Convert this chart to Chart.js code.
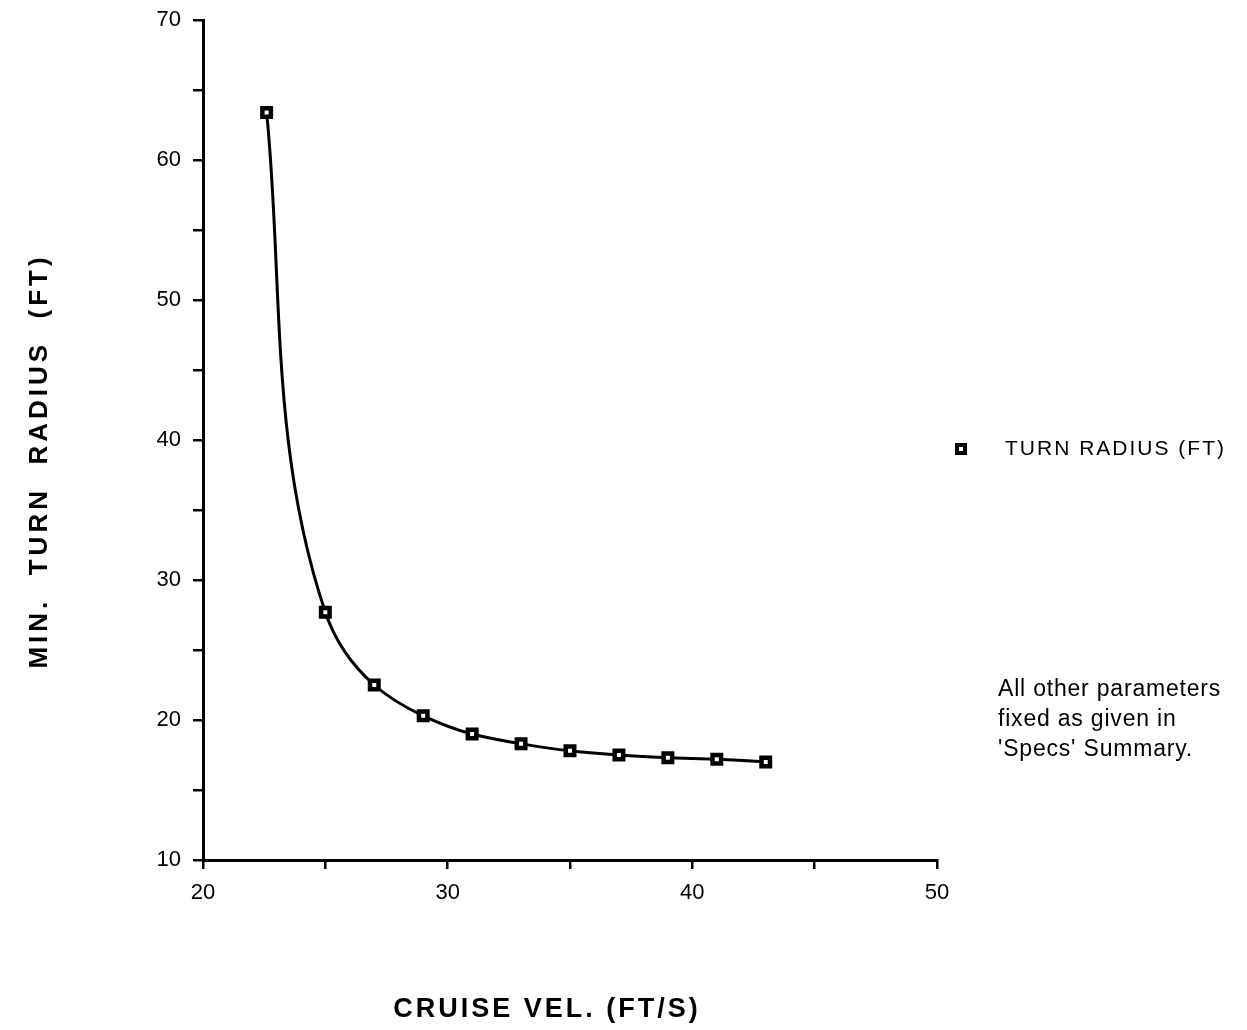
<!DOCTYPE html>
<html>
<head>
<meta charset="utf-8">
<script src="https://cdn.jsdelivr.net/npm/chart.js@4/dist/chart.umd.min.js"></script>
<style>
  html, body { margin: 0; padding: 0; background: #fff; }
  #wrap { width: 1247px; height: 1030px; }
</style>
</head>
<body>
<div id="wrap"><canvas id="turnChart"></canvas></div>
<script>
const cruiseVel = [22.6, 25, 27, 29, 31, 33, 35, 37, 39, 41, 43];
const turnRadius = [63.4, 27.7, 22.5, 20.3, 19.0, 18.3, 17.8, 17.5, 17.3, 17.2, 17.0];
const xTicks = [20, 30, 40, 50];
const yTicks = [10, 20, 30, 40, 50, 60, 70];
const seriesLabel = 'TURN RADIUS (FT)';
const xTitle = 'CRUISE VEL. (FT/S)';
const yTitle = 'MIN.  TURN  RADIUS  (FT)';
const noteLines = ['All other parameters', 'fixed as given in', "'Specs' Summary."];

const FONT = '"Liberation Sans", Arial, Helvetica, sans-serif';

// titles, legend and side note drawn on the canvas
const extras = {
    id: 'extras',
    afterDraw(chart) {
        const ctx = chart.ctx;
        ctx.save();
        ctx.fillStyle = '#000';

        ctx.font = 'bold 27px ' + FONT;
        ctx.letterSpacing = '3px';
        ctx.textAlign = 'center';
        ctx.textBaseline = 'middle';
        ctx.fillText(xTitle, 547, 1010);

        ctx.save();
        ctx.translate(40, 461);
        ctx.rotate(-Math.PI / 2);
        ctx.font = 'bold 26px ' + FONT;
        ctx.letterSpacing = '4px';
        ctx.fillText(yTitle, 0, 0);
        ctx.restore();

        // legend
        const ds = chart.data.datasets[0];
        ctx.lineWidth = 4;
        ctx.strokeStyle = ds.pointBorderColor;
        ctx.fillStyle = ds.pointBackgroundColor;
        ctx.fillRect(957, 445, 8, 8);
        ctx.strokeRect(957, 445, 8, 8);

        ctx.fillStyle = '#000';
        ctx.textAlign = 'left';
        ctx.font = '21px ' + FONT;
        ctx.letterSpacing = '2px';
        ctx.fillText(ds.label, 1005, 449);

        ctx.font = '23px ' + FONT;
        ctx.letterSpacing = '0.8px';
        noteLines.forEach((t, i) => ctx.fillText(t, 998, 690 + i * 30));
        ctx.restore();
    }
};

new Chart(document.getElementById('turnChart'), {
    type: 'line',
    data: {
        datasets: [{
            label: seriesLabel,
            data: cruiseVel.map((v, i) => ({ x: v, y: turnRadius[i] })),
            borderColor: '#000',
            borderWidth: 3,
            cubicInterpolationMode: 'monotone',
            pointStyle: 'rect',
            pointRadius: 6,
            pointBorderWidth: 4.5,
            pointBorderColor: '#000',
            pointBackgroundColor: '#fff',
            fill: false
        }]
    },
    options: {
        indexAxis: 'y',
        responsive: true,
        maintainAspectRatio: false,
        animation: false,
        layout: { padding: { top: 20, right: 310, left: 0, bottom: 0 } },
        plugins: {
            legend: { display: false },
            tooltip: { enabled: false }
        },
        scales: {
            x: {
                type: 'linear',
                position: 'bottom',
                min: 20,
                max: 50,
                afterFit: (s) => { s.height = 170; },
                border: { color: '#000', width: 3 },
                grid: { drawOnChartArea: false, drawTicks: true, tickLength: 9, color: '#000', lineWidth: 2.5 },
                ticks: {
                    stepSize: 5,
                    padding: 11,
                    color: '#000',
                    font: { family: FONT, size: 22 },
                    callback: (v) => xTicks.includes(v) ? String(v) : ''
                }
            },
            y: {
                type: 'linear',
                position: 'left',
                min: 10,
                max: 70,
                afterFit: (s) => { s.width = 203; s.paddingTop = 0; s.paddingBottom = 0; },
                border: { color: '#000', width: 3 },
                grid: { drawOnChartArea: false, drawTicks: true, tickLength: 10, color: '#000', lineWidth: 2.5 },
                ticks: {
                    stepSize: 5,
                    padding: 12,
                    color: '#000',
                    font: { family: FONT, size: 22 },
                    callback: (v) => yTicks.includes(v) ? String(v) : ''
                }
            }
        }
    },
    plugins: [extras]
});
</script>
</body>
</html>
